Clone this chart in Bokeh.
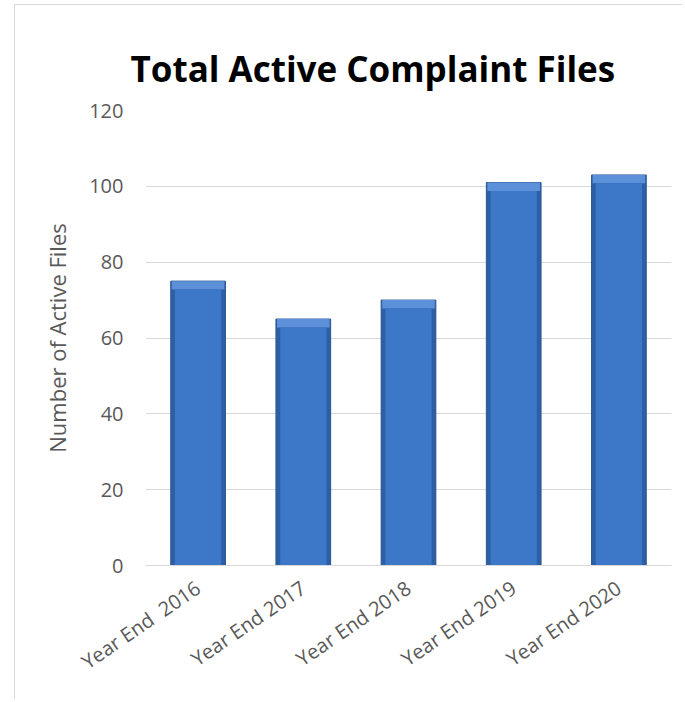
from bokeh.plotting import figure
from bokeh.models import ColumnDataSource, Range1d, FixedTicker, Title
from bokeh.embed import file_html
from bokeh.resources import INLINE

categories = ["Year End\u00a0 2016", "Year End 2017", "Year End 2018", "Year End 2019", "Year End 2020"]
values = [75, 65, 70, 101, 103]
y_ticks = [0, 20, 40, 60, 80, 100, 120]

bevel = 2.2  # bevel depth in data units (visual effect only)
src = ColumnDataSource(dict(cat=categories, val=values,
                            inner_top=[v - bevel for v in values]))

p = figure(x_range=categories, y_range=Range1d(0, 120), width=668, height=695,
           output_backend="svg", toolbar_location=None,
           min_border_left=130, min_border_right=12, min_border_top=105, min_border_bottom=135)
p.styles = {"border-top": "1px solid #d9d9d9", "border-left": "1px solid #d9d9d9",
            "margin-left": "14px", "margin-top": "4px"}
p.outline_line_color = None
p.background_fill_color = "white"
p.border_fill_color = "white"

p.title = Title(text="Total Active Complaint Files", text_font="Open Sans", text_font_style="bold",
                text_font_size="35px", text_color="black", align="left", offset=-15, standoff=37)

# bar body with darker edges
p.vbar(x="cat", top="val", width=0.52, source=src, fill_color="#2d5fa6",
       line_color="#2a5592", line_width=1)
# top bevel highlight
p.vbar(x="cat", top="val", bottom="inner_top", width=0.50, source=src,
       fill_color="#5c90d8", line_color=None)
# inner face
p.vbar(x="cat", top="inner_top", width=0.44, source=src, fill_color="#3c77c8",
       line_color=None)

p.xgrid.grid_line_color = None
p.ygrid.grid_line_color = "#d9d9d9"
p.ygrid.grid_line_width = 1.2
p.yaxis.ticker = FixedTicker(ticks=y_ticks)
p.yaxis.axis_line_color = None
p.yaxis.major_tick_line_color = None
p.yaxis.minor_tick_line_color = None
p.yaxis.major_label_text_font = "Open Sans"
p.yaxis.major_label_text_font_size = "20px"
p.yaxis.major_label_text_color = "#595959"
p.yaxis.major_label_standoff = 16
p.yaxis.axis_label = "Number of Active Files"
p.yaxis.axis_label_text_font = "Open Sans"
p.yaxis.axis_label_text_font_size = "22px"
p.yaxis.axis_label_text_font_style = "normal"
p.yaxis.axis_label_text_color = "#595959"
p.yaxis.axis_label_standoff = 14

p.xaxis.axis_line_color = "#d9d9d9"
p.xaxis.major_tick_line_color = None
p.xaxis.minor_tick_line_color = None
p.xaxis.major_label_orientation = 0.6
p.xaxis.major_label_text_font = "Open Sans"
p.xaxis.major_label_text_font_size = "20px"
p.xaxis.major_label_text_color = "#595959"
p.xaxis.major_label_standoff = 14

open("out.html", "w").write(file_html(p, INLINE))
